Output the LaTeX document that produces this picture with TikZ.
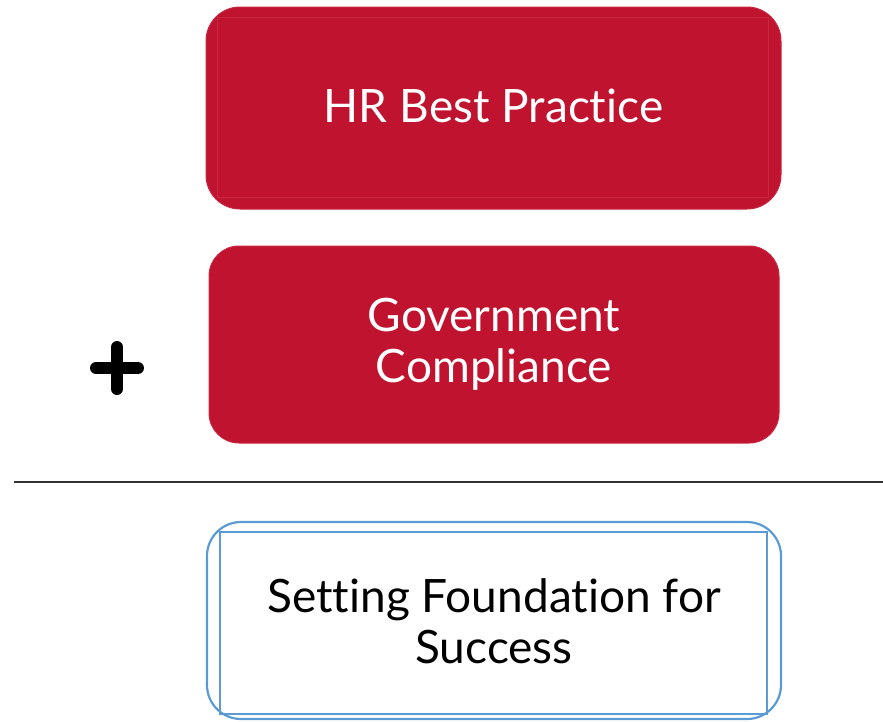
\documentclass[tikz,border=0pt]{standalone}
\usepackage{fontspec}
\setmainfont{Lato}[Ligatures=NoCommon]
\definecolor{boxred}{HTML}{C0132F}
\definecolor{edgered}{HTML}{C8283F}
\definecolor{boxblue}{HTML}{5B9BD5}
\begin{document}
\begin{tikzpicture}[x=1pt,y=-1pt,
  redbox/.style={fill=boxred,draw=edgered,line width=1pt,rounded corners=34pt},
  bluebox/.style={draw=boxblue,line width=2.2pt,rounded corners=34pt},
  label/.style={font=\fontsize{46}{51}\selectfont,align=center,inner sep=0pt}]
\useasboundingbox (0,0) rectangle (883,721);
% box 1
\draw[redbox] (206,7) rectangle (781,209);
\draw[edgered,line width=0.6pt] (217,17) rectangle (768,197);
\node[label,text=white] (hr) at (493.5,106) {HR Best Practice};
% box 2
\draw[redbox,rounded corners=30pt] (209,246) rectangle (779,443);
\node[label,text=white] (gc) at (494,344) {Government\\Compliance};
% plus
\coordinate (pc) at (117,368);
\draw[line width=12pt,line cap=round] ([xshift=-21pt]pc) -- ([xshift=21pt]pc);
\draw[line width=12pt,line cap=round] ([yshift=-21pt]pc) -- ([yshift=21pt]pc);
% line
\draw[line width=1.5pt,black!80] (14,482) -- (883,482);
% box 3
\draw[bluebox] (207,522) rectangle (781,719);
\draw[boxblue,line width=2.2pt] (220,532) rectangle (767,714);
\node[label,text=black] (sf) at (494,621) {Setting Foundation for\\Success};
\end{tikzpicture}
\end{document}
